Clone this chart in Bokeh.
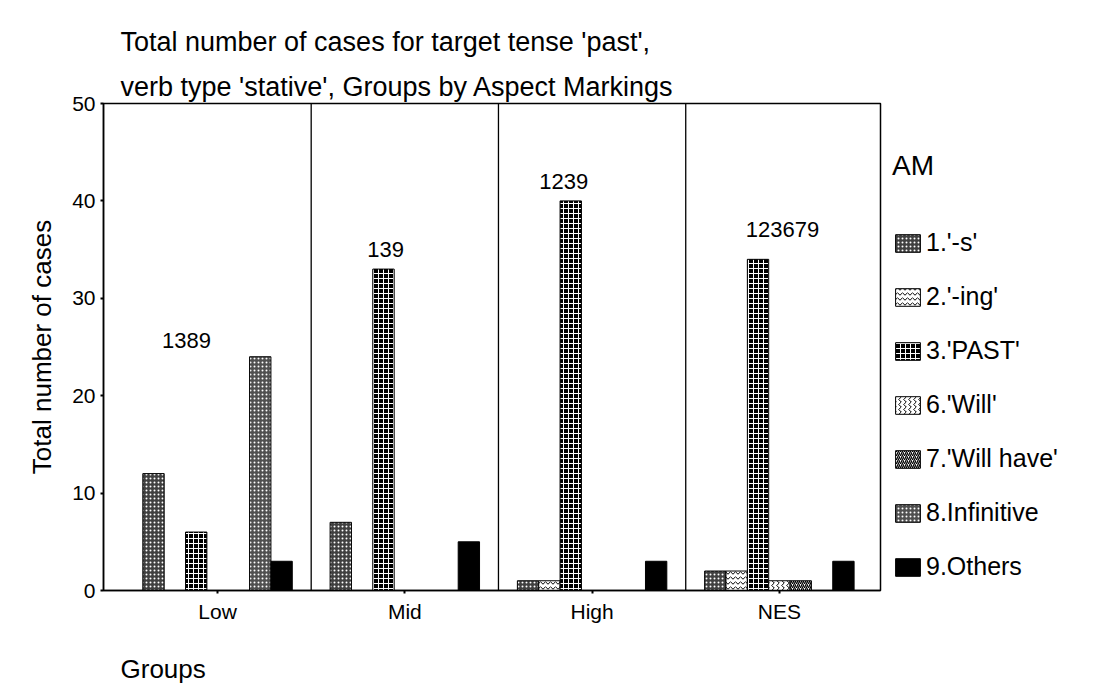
from bokeh.plotting import figure
from bokeh.models import (Range1d, FixedTicker, Title, Legend, LegendItem, ColumnDataSource,
                          Span, Label)
from bokeh.embed import file_html
from bokeh.resources import INLINE

groups = ["Low", "Mid", "High", "NES"]
series = ["1.'-s'", "2.'-ing'", "3.'PAST'", "6.'Will'", "7.'Will have'", "8.Infinitive", "9.Others"]
s_vals = [12, 7, 1, 2]
ing_vals = [0, 0, 1, 2]
past_vals = [6, 33, 40, 34]
will_vals = [0, 0, 0, 1]
willhave_vals = [0, 0, 0, 1]
inf_vals = [24, 0, 0, 0]
others_vals = [3, 5, 3, 3]
group_labels = ["1389", "139", "1239", "123679"]
label_y = [25.7, 35, 42, 37.1]
label_x_offset = [-1.45, -0.9, -1.33, 0.15]

all_vals = [s_vals, ing_vals, past_vals, will_vals, willhave_vals, inf_vals, others_vals]

FONT = "Liberation Sans"

p = figure(frame_width=777, frame_height=487, output_backend="svg", toolbar_location=None,
           x_range=Range1d(-0.609, 3.54), y_range=Range1d(0, 50),
           min_border_left=103, min_border_right=10, min_border_top=103, min_border_bottom=20)
p.grid.visible = False
p.outline_line_color = "black"
p.outline_line_width = 1.5
p.background_fill_color = "white"
p.border_fill_color = "white"

styles = [
    dict(fill_color="#404040", hatch_pattern="dot", hatch_color="white", hatch_scale=4, hatch_weight=1),
    dict(fill_color="white", hatch_pattern="horizontal_wave", hatch_color="black", hatch_scale=5, hatch_weight=1),
    dict(fill_color="black", hatch_pattern="cross", hatch_color="white", hatch_scale=5, hatch_weight=1),
    dict(fill_color="white", hatch_pattern="vertical_wave", hatch_color="black", hatch_scale=5, hatch_weight=1),
    dict(fill_color="white", hatch_pattern="right_diagonal_line", hatch_color="black", hatch_scale=4, hatch_weight=1.3),
    dict(fill_color="#505050", hatch_pattern="dot", hatch_color="white", hatch_scale=4, hatch_weight=1),
    dict(fill_color="black"),
]

nser = len(series)
slot = 0.114
items = []
for i, (name, vals) in enumerate(zip(series, all_vals)):
    xs = [g + (i - (nser - 1) / 2) * slot for g in range(len(groups))]
    xs_nz = [x for x, v in zip(xs, vals) if v > 0]
    v_nz = [v for v in vals if v > 0]
    src = ColumnDataSource(dict(x=xs_nz, top=v_nz))
    r = p.vbar(x="x", top="top", width=slot, bottom=0, source=src,
               line_color="black", line_width=1, **styles[i])
    items.append(LegendItem(label=name, renderers=[r]))

for d in [0.5, 1.5, 2.5]:
    p.add_layout(Span(location=d, dimension="height", line_color="black", line_width=1.3))

for g, (t, ly, dx) in enumerate(zip(group_labels, label_y, label_x_offset)):
    p.add_layout(Label(x=g + dx * slot, y=ly, text=t, text_align="center", text_baseline="middle",
                       text_font=FONT, text_font_size="22px", text_color="black"))

p.xaxis.ticker = FixedTicker(ticks=list(range(len(groups))))
p.xaxis.major_label_overrides = {i: g for i, g in enumerate(groups)}
p.yaxis.ticker = FixedTicker(ticks=[0, 10, 20, 30, 40, 50])
for ax in (p.xaxis, p.yaxis):
    ax.major_label_text_font = FONT
    ax.major_label_text_font_size = "21px"
    ax.major_label_text_color = "black"
    ax.axis_line_color = "black"
    ax.axis_line_width = 1.5
    ax.major_tick_line_color = "black"
    ax.major_tick_line_width = 2
    ax.minor_tick_line_color = None
    ax.major_tick_in = 0
p.xaxis.major_tick_out = 3
p.yaxis.major_tick_out = 3
p.xaxis.major_label_standoff = 6
p.yaxis.axis_label = "Total number of cases"
p.yaxis.axis_label_text_font = FONT
p.yaxis.axis_label_text_font_size = "26px"
p.yaxis.axis_label_text_font_style = "normal"
p.yaxis.axis_label_text_color = "black"
p.yaxis.axis_label_standoff = 12

legend = Legend(items=items, title="AM", location=(12, 9),
                label_text_font=FONT, label_text_font_size="25px", label_text_color="black",
                title_text_font=FONT, title_text_font_size="28px", title_text_font_style="normal",
                title_text_color="black",
                glyph_width=31, glyph_height=22, label_height=24, spacing=25, padding=2, margin=0,
                border_line_color=None, background_fill_alpha=0, title_standoff=46,
                label_standoff=3)
p.add_layout(legend, "right")

t2 = Title(text="verb type 'stative', Groups by Aspect Markings", align="left", offset=17,
           text_font=FONT, text_font_size="27px", text_font_style="normal", text_color="black",
           standoff=3)
t1 = Title(text="Total number of cases for target tense 'past',", align="left", offset=17,
           text_font=FONT, text_font_size="27px", text_font_style="normal", text_color="black",
           standoff=24)
p.add_layout(t2, "above")
p.add_layout(t1, "above")

g = Title(text="Groups", align="left", offset=17, text_font=FONT, text_font_size="26px",
          text_font_style="normal", text_color="black", standoff=52)
p.add_layout(g, "below")

open("out.html", "w").write(file_html(p, INLINE))
